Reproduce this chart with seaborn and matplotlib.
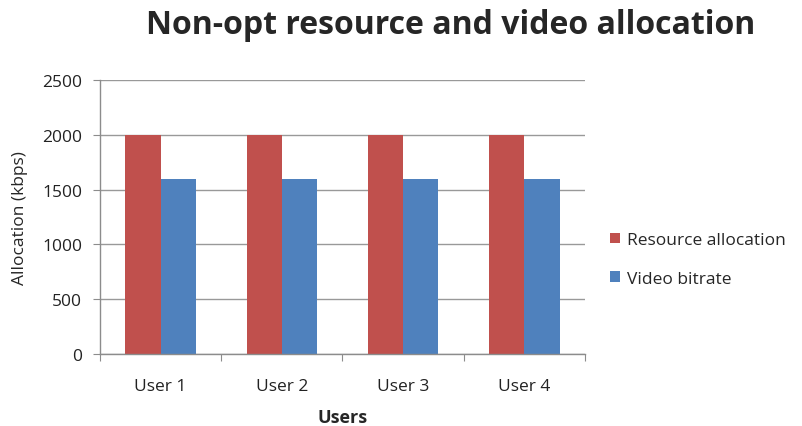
import numpy as np
import pandas as pd
import matplotlib
matplotlib.use("Agg")
import matplotlib.pyplot as plt
import seaborn as sns

users = ["User 1", "User 2", "User 3", "User 4"]
resource_allocation = [2000, 2000, 2000, 2000]
video_bitrate = [1600, 1600, 1600, 1600]
series_names = ["Resource allocation", "Video bitrate"]
colors = ["#C0504D", "#4F81BD"]

df = pd.DataFrame({
    "Users": users * 2,
    "Allocation": resource_allocation + video_bitrate,
    "Series": [series_names[0]] * len(users) + [series_names[1]] * len(users),
})

sns.set_style("white")
plt.rcParams["font.family"] = ["Open Sans", "DejaVu Sans"]

fig = plt.figure(figsize=(8.02, 4.27), dpi=100)
ax = fig.add_axes([0.1247, 0.1686, 0.6047, 0.6417])

sns.barplot(data=df, x="Users", y="Allocation", hue="Series",
            palette=colors, width=0.58, saturation=1, ax=ax,
            linewidth=0, edgecolor="none")

ax.set_ylim(0, 2500)
ax.set_yticks(np.arange(0, 2501, 500))
ax.set_xlim(-0.5, len(users) - 0.5)
ax.yaxis.grid(True, color="#999999", linewidth=1)
ax.set_axisbelow(True)

for side in ["top", "right"]:
    ax.spines[side].set_visible(False)
for side in ["left", "bottom"]:
    ax.spines[side].set_color("#8c8c8c")
    ax.spines[side].set_linewidth(1)

# x tick marks sit between categories, labels centred under them
ax.set_xticks(np.arange(-0.5, len(users), 1.0))
ax.set_xticklabels([])
ax.set_xticks(np.arange(len(users)), minor=True)
ax.set_xticklabels(users, minor=True)
ax.tick_params(axis="x", which="major", length=5, color="#8c8c8c", direction="out", bottom=True)
ax.tick_params(axis="x", which="minor", length=0, labelsize=12.5, pad=17, colors="#222222")
ax.tick_params(axis="y", length=5, color="#8c8c8c", direction="out", left=True,
               labelsize=12.5, pad=8, colors="#222222")

ax.set_xlabel("Users", fontsize=13, fontweight="bold", labelpad=10)
ax.set_ylabel("Allocation (kbps)", fontsize=12.5, labelpad=10)

fig.suptitle("Non-opt resource and video allocation", fontsize=23, fontweight="bold",
             x=0.562, y=0.98)

ax.legend(loc="center left", bbox_to_anchor=(1.02, 0.345), frameon=False,
          fontsize=12.5, handlelength=0.55, handleheight=0.55, handletextpad=0.4,
          labelspacing=1.3)

fig.savefig("out.png", dpi=100)
